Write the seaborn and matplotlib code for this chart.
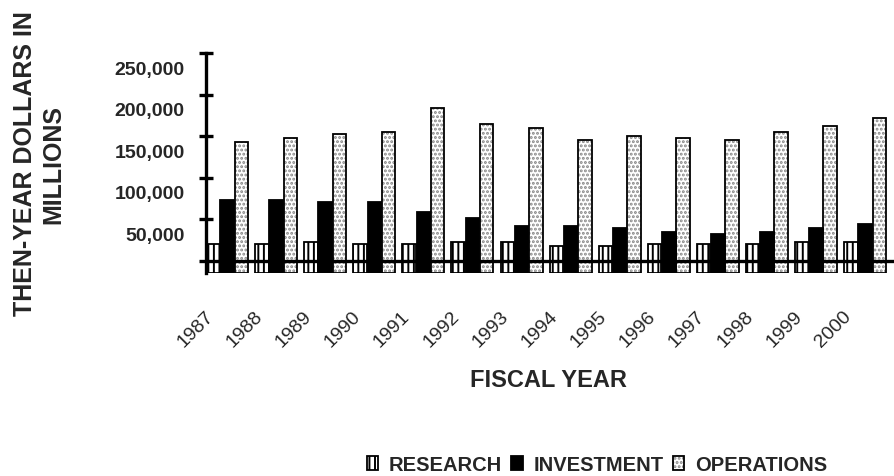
import numpy as np
import pandas as pd
import matplotlib
matplotlib.use('Agg')
import matplotlib.pyplot as plt
import matplotlib.transforms as mtransforms
from matplotlib.patches import Patch
import seaborn as sns

# values (then-year dollars in millions)
years = [str(y) for y in range(1987, 2001)]
series = ['RESEARCH', 'INVESTMENT', 'OPERATIONS']
research = [19700, 19700, 22100, 19700, 19700, 22100, 22100, 17300, 17300, 19700, 19700, 19700, 22100, 22100]
investment = [72700, 72700, 70300, 70300, 58300, 51000, 41400, 41400, 39000, 34200, 31800, 34200, 39000, 43800]
operations = [142500, 147400, 152200, 154600, 183500, 164200, 159400, 145000, 149800, 147400, 145000, 154600, 161800, 171400]
ytick_vals = [0, 50000, 100000, 150000, 200000, 250000]
ytick_labels = ['', '50,000', '100,000', '150,000', '200,000', '250,000']
BASE = -15000   # floor of the value axis, bars rise from here

sns.set_style('white')
plt.rcParams['font.family'] = ['Liberation Sans', 'DejaVu Sans']
plt.rcParams['hatch.linewidth'] = 1.4

df = pd.DataFrame({
    'year': years * 3,
    'category': [s for s in series for _ in years],
    'value': research + investment + operations,
})

fig = plt.figure(figsize=(8.94, 4.77), dpi=100)
ax = fig.add_axes([206 / 894, 1 - 274.2 / 477, 688 / 894, 220.2 / 477])

# fill layer
sns.barplot(data=df, x='year', y='value', hue='category', hue_order=series,
            palette=['white', 'black', 'white'], saturation=1, width=0.87, gap=0.05,
            errorbar=None, legend=False, linewidth=0, ax=ax)
# outline layer
sns.barplot(data=df, x='year', y='value', hue='category', hue_order=series,
            palette=['black'] * 3, fill=False, width=0.87, gap=0.05,
            errorbar=None, legend=False, linewidth=1.3, ax=ax)

for bar in ax.containers[0]:
    bar.set_hatch('|||')
    bar.set_edgecolor('black')
    bar.set_linewidth(0)
for bar in ax.containers[2]:
    bar.set_hatch('....')
    bar.set_edgecolor('#888888')
    bar.set_linewidth(0)

# bars start at the axis floor, not at zero
for p in ax.patches:
    h = p.get_height()
    p.set_y(BASE)
    p.set_height(h - BASE)

ax.set_xlim(-0.43, 13.59)
ax.set_ylim(BASE, 250000)
ax.axhline(0, color='black', lw=2.4, zorder=5)
sns.despine(ax=ax, bottom=True)
ax.spines['left'].set_linewidth(2.4)
ax.spines['left'].set_color('black')
ax.set_xlabel('')
ax.set_ylabel('')

ax.set_yticks(ytick_vals)
ax.set_yticklabels(ytick_labels)
ax.tick_params(axis='y', left=True, direction='inout', length=10.5, width=2.4, pad=10,
               labelsize=14, color='black')
dy = mtransforms.ScaledTranslation(0, -14 / 100, fig.dpi_scale_trans)
for lbl in ax.get_yticklabels():
    lbl.set_fontweight('bold')
    lbl.set_transform(lbl.get_transform() + dy)

ax.tick_params(axis='x', bottom=False, length=0, pad=0, labelsize=14)
dxy = mtransforms.ScaledTranslation(-16 / 100, -40 / 100, fig.dpi_scale_trans)
for lbl in ax.get_xticklabels():
    lbl.set_rotation(45)
    lbl.set_ha('right')
    lbl.set_va('center')
    lbl.set_rotation_mode('anchor')
    lbl.set_transform(lbl.get_transform() + dxy)

fig.text(548 / 894, 1 - 386.7 / 477, 'FISCAL YEAR', ha='center', va='baseline',
         fontsize=17, fontweight='bold')
fig.text(39 / 894, 1 - 164 / 477, 'THEN-YEAR DOLLARS IN\nMILLIONS', rotation=90,
         ha='center', va='center', multialignment='center', fontsize=18, fontweight='bold')

h_res = (Patch(facecolor='white', edgecolor='black', hatch='|||', linewidth=0),
         Patch(facecolor='none', edgecolor='black', linewidth=1.3))
h_inv = Patch(facecolor='black', edgecolor='black', linewidth=1.3)
h_ops = (Patch(facecolor='white', edgecolor='#888888', hatch='....', linewidth=0),
         Patch(facecolor='none', edgecolor='black', linewidth=1.3))
fig.legend([h_res, h_inv, h_ops], series, loc='center',
           bbox_to_anchor=(597 / 894, 1 - 465.5 / 477), ncol=3, frameon=False,
           prop={'weight': 'bold', 'size': 14.5}, handlelength=0.55, handleheight=0.65,
           handletextpad=0.55, columnspacing=0.45, borderpad=0, borderaxespad=0)

fig.savefig('out.png', dpi=100)
